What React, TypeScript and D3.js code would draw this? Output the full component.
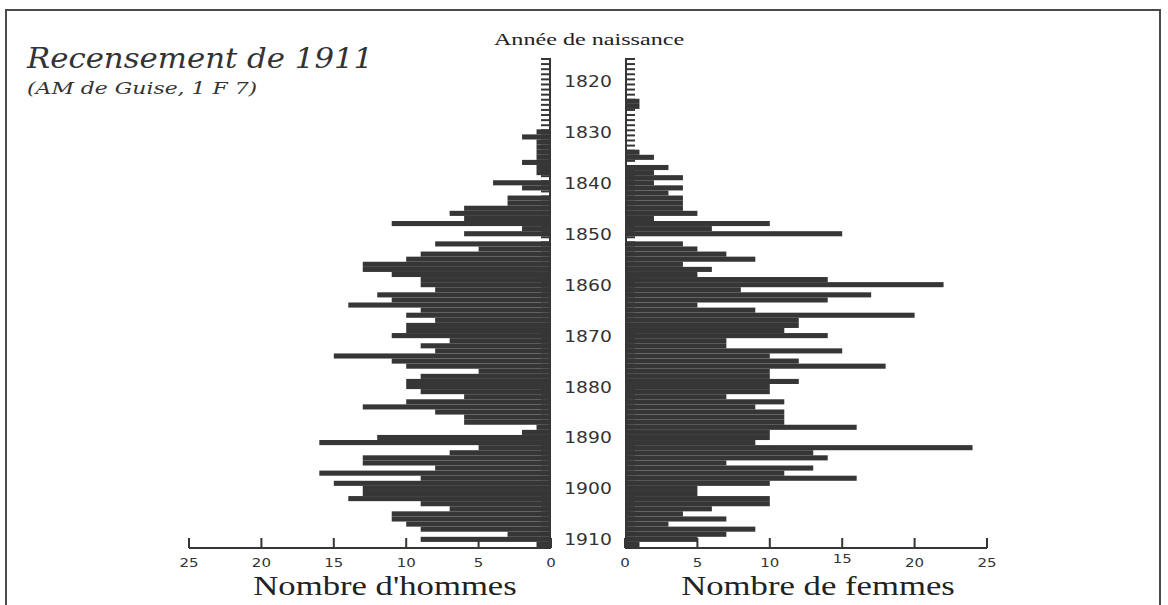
import * as d3 from 'd3';

// Année de naissance, 1816 -> 1911
const firstYear = 1816;
const lastYear = 1911;
const years = d3.range(firstYear, lastYear + 1);

const hommes = [
  0, 0, 0, 0, 0, 0, 0, 0, 0, 0,
  0, 0, 0, 0, 1, 2, 1, 1, 1, 1,
  2, 1, 1, 0, 4, 2, 0, 3, 3, 6,
  7, 6, 11, 2, 6, 0, 8, 5, 9, 10,
  13, 13, 11, 9, 9, 8, 12, 11, 14, 9,
  10, 8, 10, 10, 11, 7, 9, 8, 15, 11,
  10, 5, 9, 10, 10, 9, 6, 10, 13, 8,
  6, 6, 1, 2, 12, 16, 5, 7, 13, 13,
  8, 16, 9, 15, 13, 13, 14, 9, 7, 11,
  11, 10, 9, 3, 9, 1,
];

const femmes = [
  0, 0, 0, 0, 0, 0, 0, 0, 1, 1,
  0, 0, 0, 0, 0, 0, 0, 0, 1, 2,
  0, 3, 2, 4, 2, 4, 3, 4, 4, 4,
  5, 2, 10, 6, 15, 0, 4, 5, 7, 9,
  4, 6, 5, 14, 22, 8, 17, 14, 5, 9,
  20, 12, 12, 11, 14, 7, 7, 15, 10, 12,
  18, 10, 10, 12, 10, 10, 7, 11, 9, 11,
  11, 11, 16, 10, 10, 9, 24, 13, 14, 7,
  13, 11, 16, 10, 5, 5, 10, 10, 6, 4,
  7, 3, 9, 7, 5, 1,
];

const yearLabels = [1820, 1830, 1840, 1850, 1860, 1870, 1880, 1890, 1900, 1910];
const countTicks = [0, 5, 10, 15, 20, 25];

const W = 1168;
const H = 605;
const ink = '#363636';
const textCol = '#333';
const sx = 1.25; // the original picture is stretched horizontally

const top = 58;
const bottom = 547;
const xL0 = 551;
const xR0 = 625;
const span = 362;

export default function App() {
  const y = d3.scaleLinear().domain([firstYear, lastYear + 1]).range([top, bottom]);
  const xLeft = d3.scaleLinear().domain([0, 25]).range([xL0, xL0 - span]);
  const xRight = d3.scaleLinear().domain([0, 25]).range([xR0, xR0 + span]);
  const bh = y(firstYear + 1) - y(firstYear);
  const axisY = bottom + 1;

  const stretched = (x: number, yy: number, s = sx) => `translate(${x},${yy}) scale(${s},1)`;

  return (
    <svg
      width={W}
      height={H}
      style={{ position: 'absolute', left: 0, top: 0, display: 'block', background: '#fff' }}
    >
      <rect x={6} y={10} width={1154} height={620} fill="none" stroke="#4a4a4a" strokeWidth={2} />

      {/* titre */}
      <text
        transform={stretched(27, 68, 1.1)}
        fontFamily="DejaVu Serif"
        fontStyle="italic"
        fontSize={28}
        fill={textCol}
      >
        Recensement de 1911
      </text>
      <text
        transform={stretched(27, 94, 1.29)}
        fontFamily="DejaVu Serif"
        fontStyle="italic"
        fontSize={17}
        fill={textCol}
      >
        (AM de Guise, 1 F 7)
      </text>
      <text
        transform={stretched(589, 45, 1.42)}
        textAnchor="middle"
        fontFamily="Liberation Serif"
        fontSize={17}
        fill="#222"
      >
        Année de naissance
      </text>

      {/* barres hommes */}
      {years.map((yr, i) =>
        hommes[i] > 0 ? (
          <rect
            key={'h' + yr}
            x={xLeft(hommes[i])}
            y={y(yr)}
            width={xL0 - xLeft(hommes[i])}
            height={bh}
            fill={ink}
          />
        ) : null
      )}
      {/* barres femmes */}
      {years.map((yr, i) =>
        femmes[i] > 0 ? (
          <rect
            key={'f' + yr}
            x={xR0}
            y={y(yr)}
            width={xRight(femmes[i]) - xR0}
            height={bh}
            fill={ink}
          />
        ) : null
      )}

      {/* axes verticaux avec un trait par année */}
      <line x1={xL0 - 1} x2={xL0 - 1} y1={top} y2={bottom} stroke={ink} strokeWidth={2} />
      <line x1={xR0 + 1} x2={xR0 + 1} y1={top} y2={bottom} stroke={ink} strokeWidth={2} />
      {years.map((yr) => (
        <g key={'t' + yr}>
          <line x1={xL0 - 10} x2={xL0} y1={y(yr) + 1} y2={y(yr) + 1} stroke={ink} strokeWidth={2} />
          <line x1={xR0} x2={xR0 + 10} y1={y(yr) + 1} y2={y(yr) + 1} stroke={ink} strokeWidth={2} />
        </g>
      ))}

      {yearLabels.map((yr) => (
        <text
          key={'yl' + yr}
          transform={stretched(588, y(yr + 0.5) + 6)}
          textAnchor="middle"
          fontFamily="DejaVu Sans"
          fontSize={15}
          fill={textCol}
        >
          {yr}
        </text>
      ))}

      {/* axes horizontaux */}
      <line x1={xLeft(25)} x2={xL0} y1={axisY} y2={axisY} stroke={ink} strokeWidth={2} />
      <line x1={xR0} x2={xRight(25)} y1={axisY} y2={axisY} stroke={ink} strokeWidth={2} />
      {countTicks.map((t) => (
        <g key={'c' + t}>
          <line x1={xLeft(t)} x2={xLeft(t)} y1={axisY} y2={axisY - 10} stroke={ink} strokeWidth={2} />
          <line x1={xRight(t)} x2={xRight(t)} y1={axisY} y2={axisY - 10} stroke={ink} strokeWidth={2} />
          <text
            transform={stretched(xLeft(t), 567)}
            textAnchor="middle"
            fontFamily="DejaVu Sans"
            fontSize={12}
            fill={textCol}
          >
            {t}
          </text>
          <text
            transform={stretched(xRight(t), t === 15 ? 563 : 567)}
            textAnchor="middle"
            fontFamily="DejaVu Sans"
            fontSize={12}
            fill={textCol}
          >
            {t}
          </text>
        </g>
      ))}

      <text
        transform={stretched(385, 595, 1.24)}
        textAnchor="middle"
        fontFamily="Liberation Serif"
        fontSize={28}
        fill="#222"
      >
        Nombre d'hommes
      </text>
      <text
        transform={stretched(818, 595, 1.24)}
        textAnchor="middle"
        fontFamily="Liberation Serif"
        fontSize={28}
        fill="#222"
      >
        Nombre de femmes
      </text>
    </svg>
  );
}
